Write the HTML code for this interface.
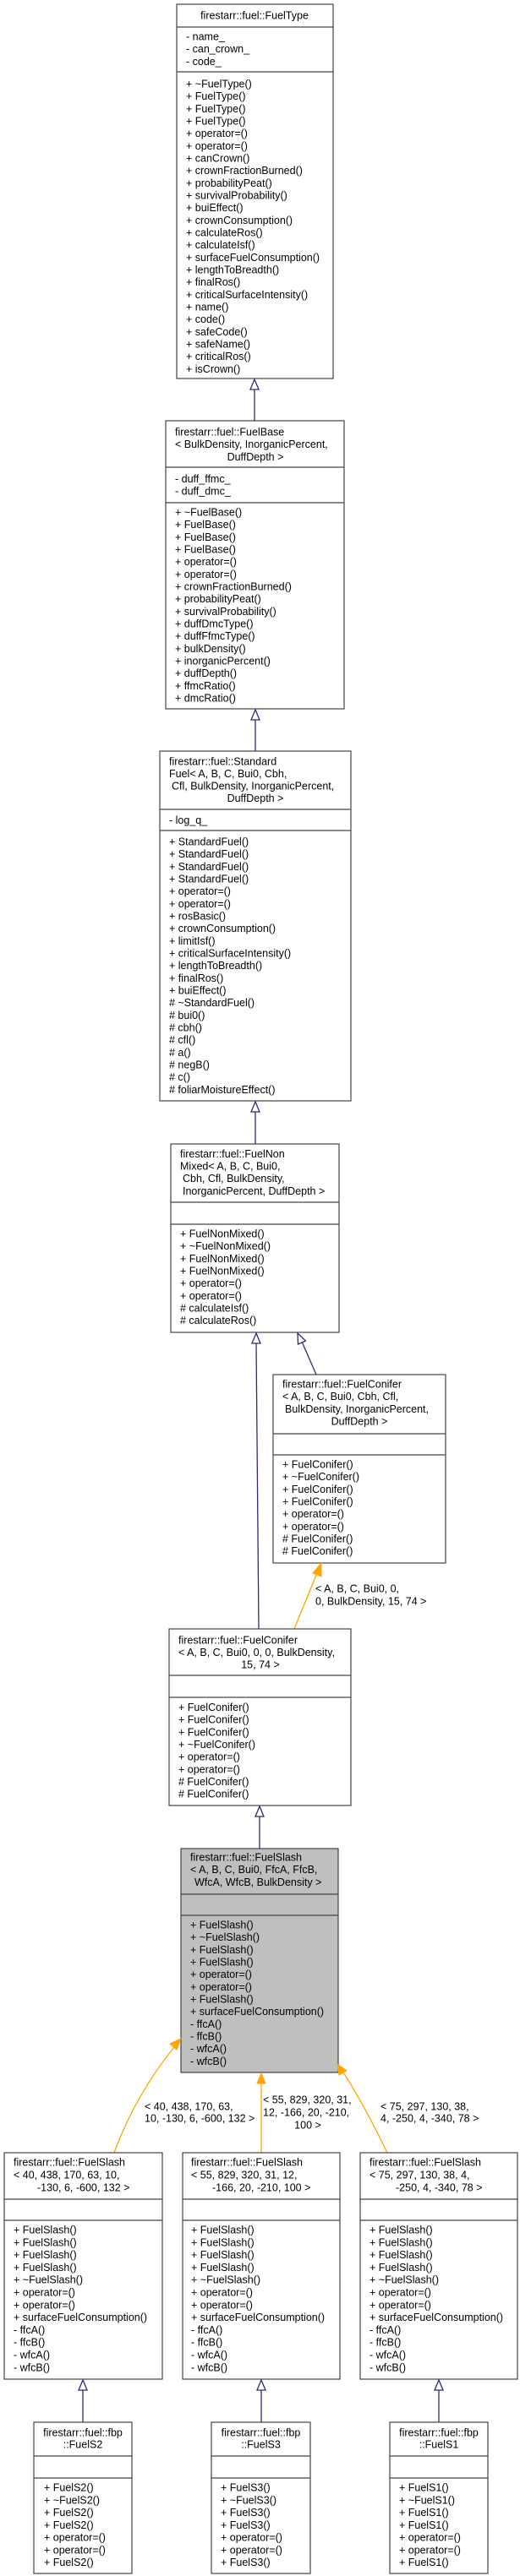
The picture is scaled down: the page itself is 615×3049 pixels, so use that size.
<!DOCTYPE html>
<html><head><meta charset="utf-8"><style>
html,body{margin:0;padding:0;background:#fff;}
svg{display:block;}
text{font-family:"Liberation Sans",Arial,sans-serif;font-size:12.5px;fill:#000;}
.b{fill:#fff;stroke:#444;stroke-width:1.2;}
.g{fill:#bfbfbf;stroke:#444;stroke-width:1.2;}
.s{stroke:#444;stroke-width:1.2;}
.e{stroke:#2b2b7a;stroke-width:1.3;fill:none;}
.h{fill:#fff;stroke:#2b2b7a;stroke-width:1.3;}
.o{stroke:#ffa500;stroke-width:1.3;fill:none;}
.of{fill:#ffa500;stroke:#ffa500;stroke-width:1;}
.m{text-anchor:middle;}
</style></head><body>
<svg width="615" height="3049" viewBox="0 0 615 3049" xmlns="http://www.w3.org/2000/svg">

<!-- FuelType -->
<rect class="b" x="209" y="5" width="185" height="443"/>
<line class="s" x1="209" y1="32" x2="394" y2="32"/>
<line class="s" x1="209" y1="85" x2="394" y2="85"/>
<text class="m" x="301" y="22.5">firestarr::fuel::FuelType</text>
<text x="220" y="47.5">- name_</text>
<text x="220" y="62.2">- can_crown_</text>
<text x="220" y="76.9">- code_</text>
<g transform="translate(220,103.5)">
<text y="0">+ ~FuelType()</text>
<text y="14.67">+ FuelType()</text>
<text y="29.33">+ FuelType()</text>
<text y="44">+ FuelType()</text>
<text y="58.67">+ operator=()</text>
<text y="73.33">+ operator=()</text>
<text y="88">+ canCrown()</text>
<text y="102.67">+ crownFractionBurned()</text>
<text y="117.33">+ probabilityPeat()</text>
<text y="132">+ survivalProbability()</text>
<text y="146.67">+ buiEffect()</text>
<text y="161.33">+ crownConsumption()</text>
<text y="176">+ calculateRos()</text>
<text y="190.67">+ calculateIsf()</text>
<text y="205.33">+ surfaceFuelConsumption()</text>
<text y="220">+ lengthToBreadth()</text>
<text y="234.67">+ finalRos()</text>
<text y="249.33">+ criticalSurfaceIntensity()</text>
<text y="264">+ name()</text>
<text y="278.67">+ code()</text>
<text y="293.33">+ safeCode()</text>
<text y="308">+ safeName()</text>
<text y="322.67">+ criticalRos()</text>
<text y="337.33">+ isCrown()</text>
</g>

<!-- arrow FuelBase -> FuelType -->
<line class="e" x1="301" y1="498" x2="301" y2="461"/>
<polygon class="h" points="301,449 296,461 306,461"/>

<!-- FuelBase -->
<rect class="b" x="196" y="498" width="211" height="341"/>
<line class="s" x1="196" y1="553" x2="407" y2="553"/>
<line class="s" x1="196" y1="595" x2="407" y2="595"/>
<text x="207" y="515.5">firestarr::fuel::FuelBase</text>
<text x="207" y="530">&lt; BulkDensity, InorganicPercent,</text>
<text class="m" x="302" y="545">DuffDepth &gt;</text>
<text x="207" y="571">- duff_ffmc_</text>
<text x="207" y="585.5">- duff_dmc_</text>
<g transform="translate(207,610.5)">
<text y="0">+ ~FuelBase()</text>
<text y="14.67">+ FuelBase()</text>
<text y="29.33">+ FuelBase()</text>
<text y="44">+ FuelBase()</text>
<text y="58.67">+ operator=()</text>
<text y="73.33">+ operator=()</text>
<text y="88">+ crownFractionBurned()</text>
<text y="102.67">+ probabilityPeat()</text>
<text y="117.33">+ survivalProbability()</text>
<text y="132">+ duffDmcType()</text>
<text y="146.67">+ duffFfmcType()</text>
<text y="161.33">+ bulkDensity()</text>
<text y="176">+ inorganicPercent()</text>
<text y="190.67">+ duffDepth()</text>
<text y="205.33">+ ffmcRatio()</text>
<text y="220">+ dmcRatio()</text>
</g>

<line class="e" x1="302" y1="889" x2="302" y2="852"/>
<polygon class="h" points="302,840 297,852 307,852"/>

<!-- StandardFuel -->
<rect class="b" x="189" y="889" width="226" height="414"/>
<line class="s" x1="189" y1="958" x2="415" y2="958"/>
<line class="s" x1="189" y1="983" x2="415" y2="983"/>
<text x="200" y="905.5">firestarr::fuel::Standard</text>
<text x="200" y="920">Fuel&lt; A, B, C, Bui0, Cbh,</text>
<text x="203" y="934.5">Cfl, BulkDensity, InorganicPercent,</text>
<text class="m" x="302" y="949">DuffDepth &gt;</text>
<text x="200" y="975">- log_q_</text>
<g transform="translate(200,1000.5)">
<text y="0">+ StandardFuel()</text>
<text y="14.67">+ StandardFuel()</text>
<text y="29.33">+ StandardFuel()</text>
<text y="44">+ StandardFuel()</text>
<text y="58.67">+ operator=()</text>
<text y="73.33">+ operator=()</text>
<text y="88">+ rosBasic()</text>
<text y="102.67">+ crownConsumption()</text>
<text y="117.33">+ limitIsf()</text>
<text y="132">+ criticalSurfaceIntensity()</text>
<text y="146.67">+ lengthToBreadth()</text>
<text y="161.33">+ finalRos()</text>
<text y="176">+ buiEffect()</text>
<text y="190.67"># ~StandardFuel()</text>
<text y="205.33"># bui0()</text>
<text y="220"># cbh()</text>
<text y="234.67"># cfl()</text>
<text y="249.33"># a()</text>
<text y="264"># negB()</text>
<text y="278.67"># c()</text>
<text y="293.33"># foliarMoistureEffect()</text>
</g>

<line class="e" x1="302" y1="1354" x2="302" y2="1316"/>
<polygon class="h" points="302,1304 297,1316 307,1316"/>

<!-- FuelNonMixed -->
<rect class="b" x="202" y="1354" width="199" height="223"/>
<line class="s" x1="202" y1="1423" x2="401" y2="1423"/>
<line class="s" x1="202" y1="1449" x2="401" y2="1449"/>
<text x="213" y="1370">firestarr::fuel::FuelNon</text>
<text x="213" y="1384.5">Mixed&lt; A, B, C, Bui0,</text>
<text x="216" y="1399">Cbh, Cfl, BulkDensity,</text>
<text x="216" y="1414">InorganicPercent, DuffDepth &gt;</text>
<g transform="translate(213,1464.5)">
<text y="0">+ FuelNonMixed()</text>
<text y="14.67">+ ~FuelNonMixed()</text>
<text y="29.33">+ FuelNonMixed()</text>
<text y="44">+ FuelNonMixed()</text>
<text y="58.67">+ operator=()</text>
<text y="73.33">+ operator=()</text>
<text y="88"># calculateIsf()</text>
<text y="102.67"># calculateRos()</text>
</g>

<!-- arrows to NonMixed -->
<line class="e" x1="306" y1="1928" x2="303" y2="1590"/>
<polygon class="h" points="303,1578 298,1590 308,1590"/>
<line class="e" x1="374" y1="1627" x2="357" y2="1588"/>
<polygon class="h" points="352,1578 352.5,1591 361.5,1587"/>

<!-- FuelConifer 1 -->
<rect class="b" x="323" y="1627" width="204" height="223"/>
<line class="s" x1="323" y1="1697" x2="527" y2="1697"/>
<line class="s" x1="323" y1="1722" x2="527" y2="1722"/>
<text x="334" y="1642.5">firestarr::fuel::FuelConifer</text>
<text x="334" y="1657">&lt; A, B, C, Bui0, Cbh, Cfl,</text>
<text x="337" y="1672">BulkDensity, InorganicPercent,</text>
<text class="m" x="425" y="1686.5">DuffDepth &gt;</text>
<g transform="translate(334,1737.5)">
<text y="0">+ FuelConifer()</text>
<text y="14.67">+ ~FuelConifer()</text>
<text y="29.33">+ FuelConifer()</text>
<text y="44">+ FuelConifer()</text>
<text y="58.67">+ operator=()</text>
<text y="73.33">+ operator=()</text>
<text y="88"># FuelConifer()</text>
<text y="102.67"># FuelConifer()</text>
</g>

<!-- orange Conifer2 -> Conifer1 -->
<line class="o" x1="348" y1="1928" x2="375" y2="1862"/>
<polygon class="of" points="380,1850 370,1862 380,1866"/>
<text x="373" y="1884.5">&lt; A, B, C, Bui0, 0,</text>
<text x="373" y="1899.5">0, BulkDensity, 15, 74 &gt;</text>

<!-- FuelConifer 2 -->
<rect class="b" x="200" y="1928" width="215" height="209"/>
<line class="s" x1="200" y1="1983" x2="415" y2="1983"/>
<line class="s" x1="200" y1="2009" x2="415" y2="2009"/>
<text x="211" y="1945.5">firestarr::fuel::FuelConifer</text>
<text x="211" y="1960">&lt; A, B, C, Bui0, 0, 0, BulkDensity,</text>
<text class="m" x="308" y="1974.5">15, 74 &gt;</text>
<g transform="translate(211,2025)">
<text y="0">+ FuelConifer()</text>
<text y="14.67">+ FuelConifer()</text>
<text y="29.33">+ FuelConifer()</text>
<text y="44">+ ~FuelConifer()</text>
<text y="58.67">+ operator=()</text>
<text y="73.33">+ operator=()</text>
<text y="88"># FuelConifer()</text>
<text y="102.67"># FuelConifer()</text>
</g>

<line class="e" x1="307" y1="2188" x2="307" y2="2150"/>
<polygon class="h" points="307,2138 302,2150 312,2150"/>

<!-- FuelSlash (grey) -->
<rect class="g" x="214" y="2188" width="186" height="265"/>
<line class="s" x1="214" y1="2242" x2="400" y2="2242"/>
<line class="s" x1="214" y1="2267" x2="400" y2="2267"/>
<text x="225" y="2202.5">firestarr::fuel::FuelSlash</text>
<text x="225" y="2217">&lt; A, B, C, Bui0, FfcA, FfcB,</text>
<text x="230" y="2232">WfcA, WfcB, BulkDensity &gt;</text>
<g transform="translate(225,2282.5)">
<text y="0">+ FuelSlash()</text>
<text y="14.67">+ ~FuelSlash()</text>
<text y="29.33">+ FuelSlash()</text>
<text y="44">+ FuelSlash()</text>
<text y="58.67">+ operator=()</text>
<text y="73.33">+ operator=()</text>
<text y="88">+ FuelSlash()</text>
<text y="102.67">+ surfaceFuelConsumption()</text>
<text y="117.33">- ffcA()</text>
<text y="132">- ffcB()</text>
<text y="146.67">- wfcA()</text>
<text y="161.33">- wfcB()</text>
</g>

<!-- orange arrows to FuelSlash -->
<path class="o" d="M135,2548 Q160,2480 206,2423"/>
<polygon class="of" points="214,2413 201,2419 209,2426"/>
<line class="o" x1="309" y1="2548" x2="309" y2="2466"/>
<polygon class="of" points="309,2454 304,2466 314,2466"/>
<path class="o" d="M458,2548 Q430,2490 406,2453"/>
<polygon class="of" points="399,2443 401,2456 410,2451"/>
<text x="171" y="2497.5">&lt; 40, 438, 170, 63,</text>
<text x="171" y="2511.5">10, -130, 6, -600, 132 &gt;</text>
<text x="311" y="2489.5">&lt; 55, 829, 320, 31,</text>
<text x="311" y="2504.5">12, -166, 20, -210,</text>
<text class="m" x="364" y="2519.5">100 &gt;</text>
<text x="450" y="2497.5">&lt; 75, 297, 130, 38,</text>
<text x="450" y="2511.5">4, -250, 4, -340, 78 &gt;</text>

<!-- bottom slash boxes -->
<g>
<rect class="b" x="5" y="2548" width="187" height="268"/>
<line class="s" x1="5" y1="2603" x2="192" y2="2603"/>
<line class="s" x1="5" y1="2628" x2="192" y2="2628"/>
<text x="16" y="2563.5">firestarr::fuel::FuelSlash</text>
<text x="16" y="2578.5">&lt; 40, 438, 170, 63, 10,</text>
<text x="44" y="2593.5">-130, 6, -600, 132 &gt;</text>
</g>
<g>
<rect class="b" x="216" y="2548" width="186" height="268"/>
<line class="s" x1="216" y1="2603" x2="402" y2="2603"/>
<line class="s" x1="216" y1="2628" x2="402" y2="2628"/>
<text x="226" y="2563.5">firestarr::fuel::FuelSlash</text>
<text x="226" y="2578.5">&lt; 55, 829, 320, 31, 12,</text>
<text x="251" y="2593.5">-166, 20, -210, 100 &gt;</text>
</g>
<g>
<rect class="b" x="426" y="2548" width="186" height="268"/>
<line class="s" x1="426" y1="2603" x2="612" y2="2603"/>
<line class="s" x1="426" y1="2628" x2="612" y2="2628"/>
<text x="437" y="2563.5">firestarr::fuel::FuelSlash</text>
<text x="437" y="2578.5">&lt; 75, 297, 130, 38, 4,</text>
<text x="468" y="2593.5">-250, 4, -340, 78 &gt;</text>
</g>
<g id="sl1" transform="translate(16,2643.5)">
<text y="0">+ FuelSlash()</text>
<text y="14.8">+ FuelSlash()</text>
<text y="29.6">+ FuelSlash()</text>
<text y="44.4">+ FuelSlash()</text>
<text y="59.2">+ ~FuelSlash()</text>
<text y="74">+ operator=()</text>
<text y="88.8">+ operator=()</text>
<text y="103.6">+ surfaceFuelConsumption()</text>
<text y="118.4">- ffcA()</text>
<text y="133.2">- ffcB()</text>
<text y="148">- wfcA()</text>
<text y="162.8">- wfcB()</text>
</g>
<g transform="translate(226,2643.5)">
<text y="0">+ FuelSlash()</text>
<text y="14.8">+ FuelSlash()</text>
<text y="29.6">+ FuelSlash()</text>
<text y="44.4">+ FuelSlash()</text>
<text y="59.2">+ ~FuelSlash()</text>
<text y="74">+ operator=()</text>
<text y="88.8">+ operator=()</text>
<text y="103.6">+ surfaceFuelConsumption()</text>
<text y="118.4">- ffcA()</text>
<text y="133.2">- ffcB()</text>
<text y="148">- wfcA()</text>
<text y="162.8">- wfcB()</text>
</g>
<g transform="translate(437,2643.5)">
<text y="0">+ FuelSlash()</text>
<text y="14.8">+ FuelSlash()</text>
<text y="29.6">+ FuelSlash()</text>
<text y="44.4">+ FuelSlash()</text>
<text y="59.2">+ ~FuelSlash()</text>
<text y="74">+ operator=()</text>
<text y="88.8">+ operator=()</text>
<text y="103.6">+ surfaceFuelConsumption()</text>
<text y="118.4">- ffcA()</text>
<text y="133.2">- ffcB()</text>
<text y="148">- wfcA()</text>
<text y="162.8">- wfcB()</text>
</g>

<!-- leaf arrows -->
<line class="e" x1="98" y1="2867" x2="98" y2="2829"/>
<polygon class="h" points="98,2817 93,2829 103,2829"/>
<line class="e" x1="309" y1="2867" x2="309" y2="2829"/>
<polygon class="h" points="309,2817 304,2829 314,2829"/>
<line class="e" x1="519" y1="2867" x2="519" y2="2829"/>
<polygon class="h" points="519,2817 514,2829 524,2829"/>

<!-- leaves -->
<rect class="b" x="40" y="2867" width="116" height="179"/>
<line class="s" x1="40" y1="2907" x2="156" y2="2907"/>
<line class="s" x1="40" y1="2933" x2="156" y2="2933"/>
<text class="m" x="98" y="2883.5">firestarr::fuel::fbp</text>
<text class="m" x="98" y="2897.5">::FuelS2</text>
<g transform="translate(52,2948.5)">
<text y="0">+ FuelS2()</text>
<text y="14.75">+ ~FuelS2()</text>
<text y="29.5">+ FuelS2()</text>
<text y="44.25">+ FuelS2()</text>
<text y="59">+ operator=()</text>
<text y="73.75">+ operator=()</text>
<text y="88.5">+ FuelS2()</text>
</g>

<rect class="b" x="250" y="2867" width="117" height="179"/>
<line class="s" x1="250" y1="2907" x2="367" y2="2907"/>
<line class="s" x1="250" y1="2933" x2="367" y2="2933"/>
<text class="m" x="308.5" y="2883.5">firestarr::fuel::fbp</text>
<text class="m" x="308.5" y="2897.5">::FuelS3</text>
<g transform="translate(261,2948.5)">
<text y="0">+ FuelS3()</text>
<text y="14.75">+ ~FuelS3()</text>
<text y="29.5">+ FuelS3()</text>
<text y="44.25">+ FuelS3()</text>
<text y="59">+ operator=()</text>
<text y="73.75">+ operator=()</text>
<text y="88.5">+ FuelS3()</text>
</g>

<rect class="b" x="461" y="2867" width="116" height="179"/>
<line class="s" x1="461" y1="2907" x2="577" y2="2907"/>
<line class="s" x1="461" y1="2933" x2="577" y2="2933"/>
<text class="m" x="519" y="2883.5">firestarr::fuel::fbp</text>
<text class="m" x="519" y="2897.5">::FuelS1</text>
<g transform="translate(472,2948.5)">
<text y="0">+ FuelS1()</text>
<text y="14.75">+ ~FuelS1()</text>
<text y="29.5">+ FuelS1()</text>
<text y="44.25">+ FuelS1()</text>
<text y="59">+ operator=()</text>
<text y="73.75">+ operator=()</text>
<text y="88.5">+ FuelS1()</text>
</g>

</svg>
</body></html>
